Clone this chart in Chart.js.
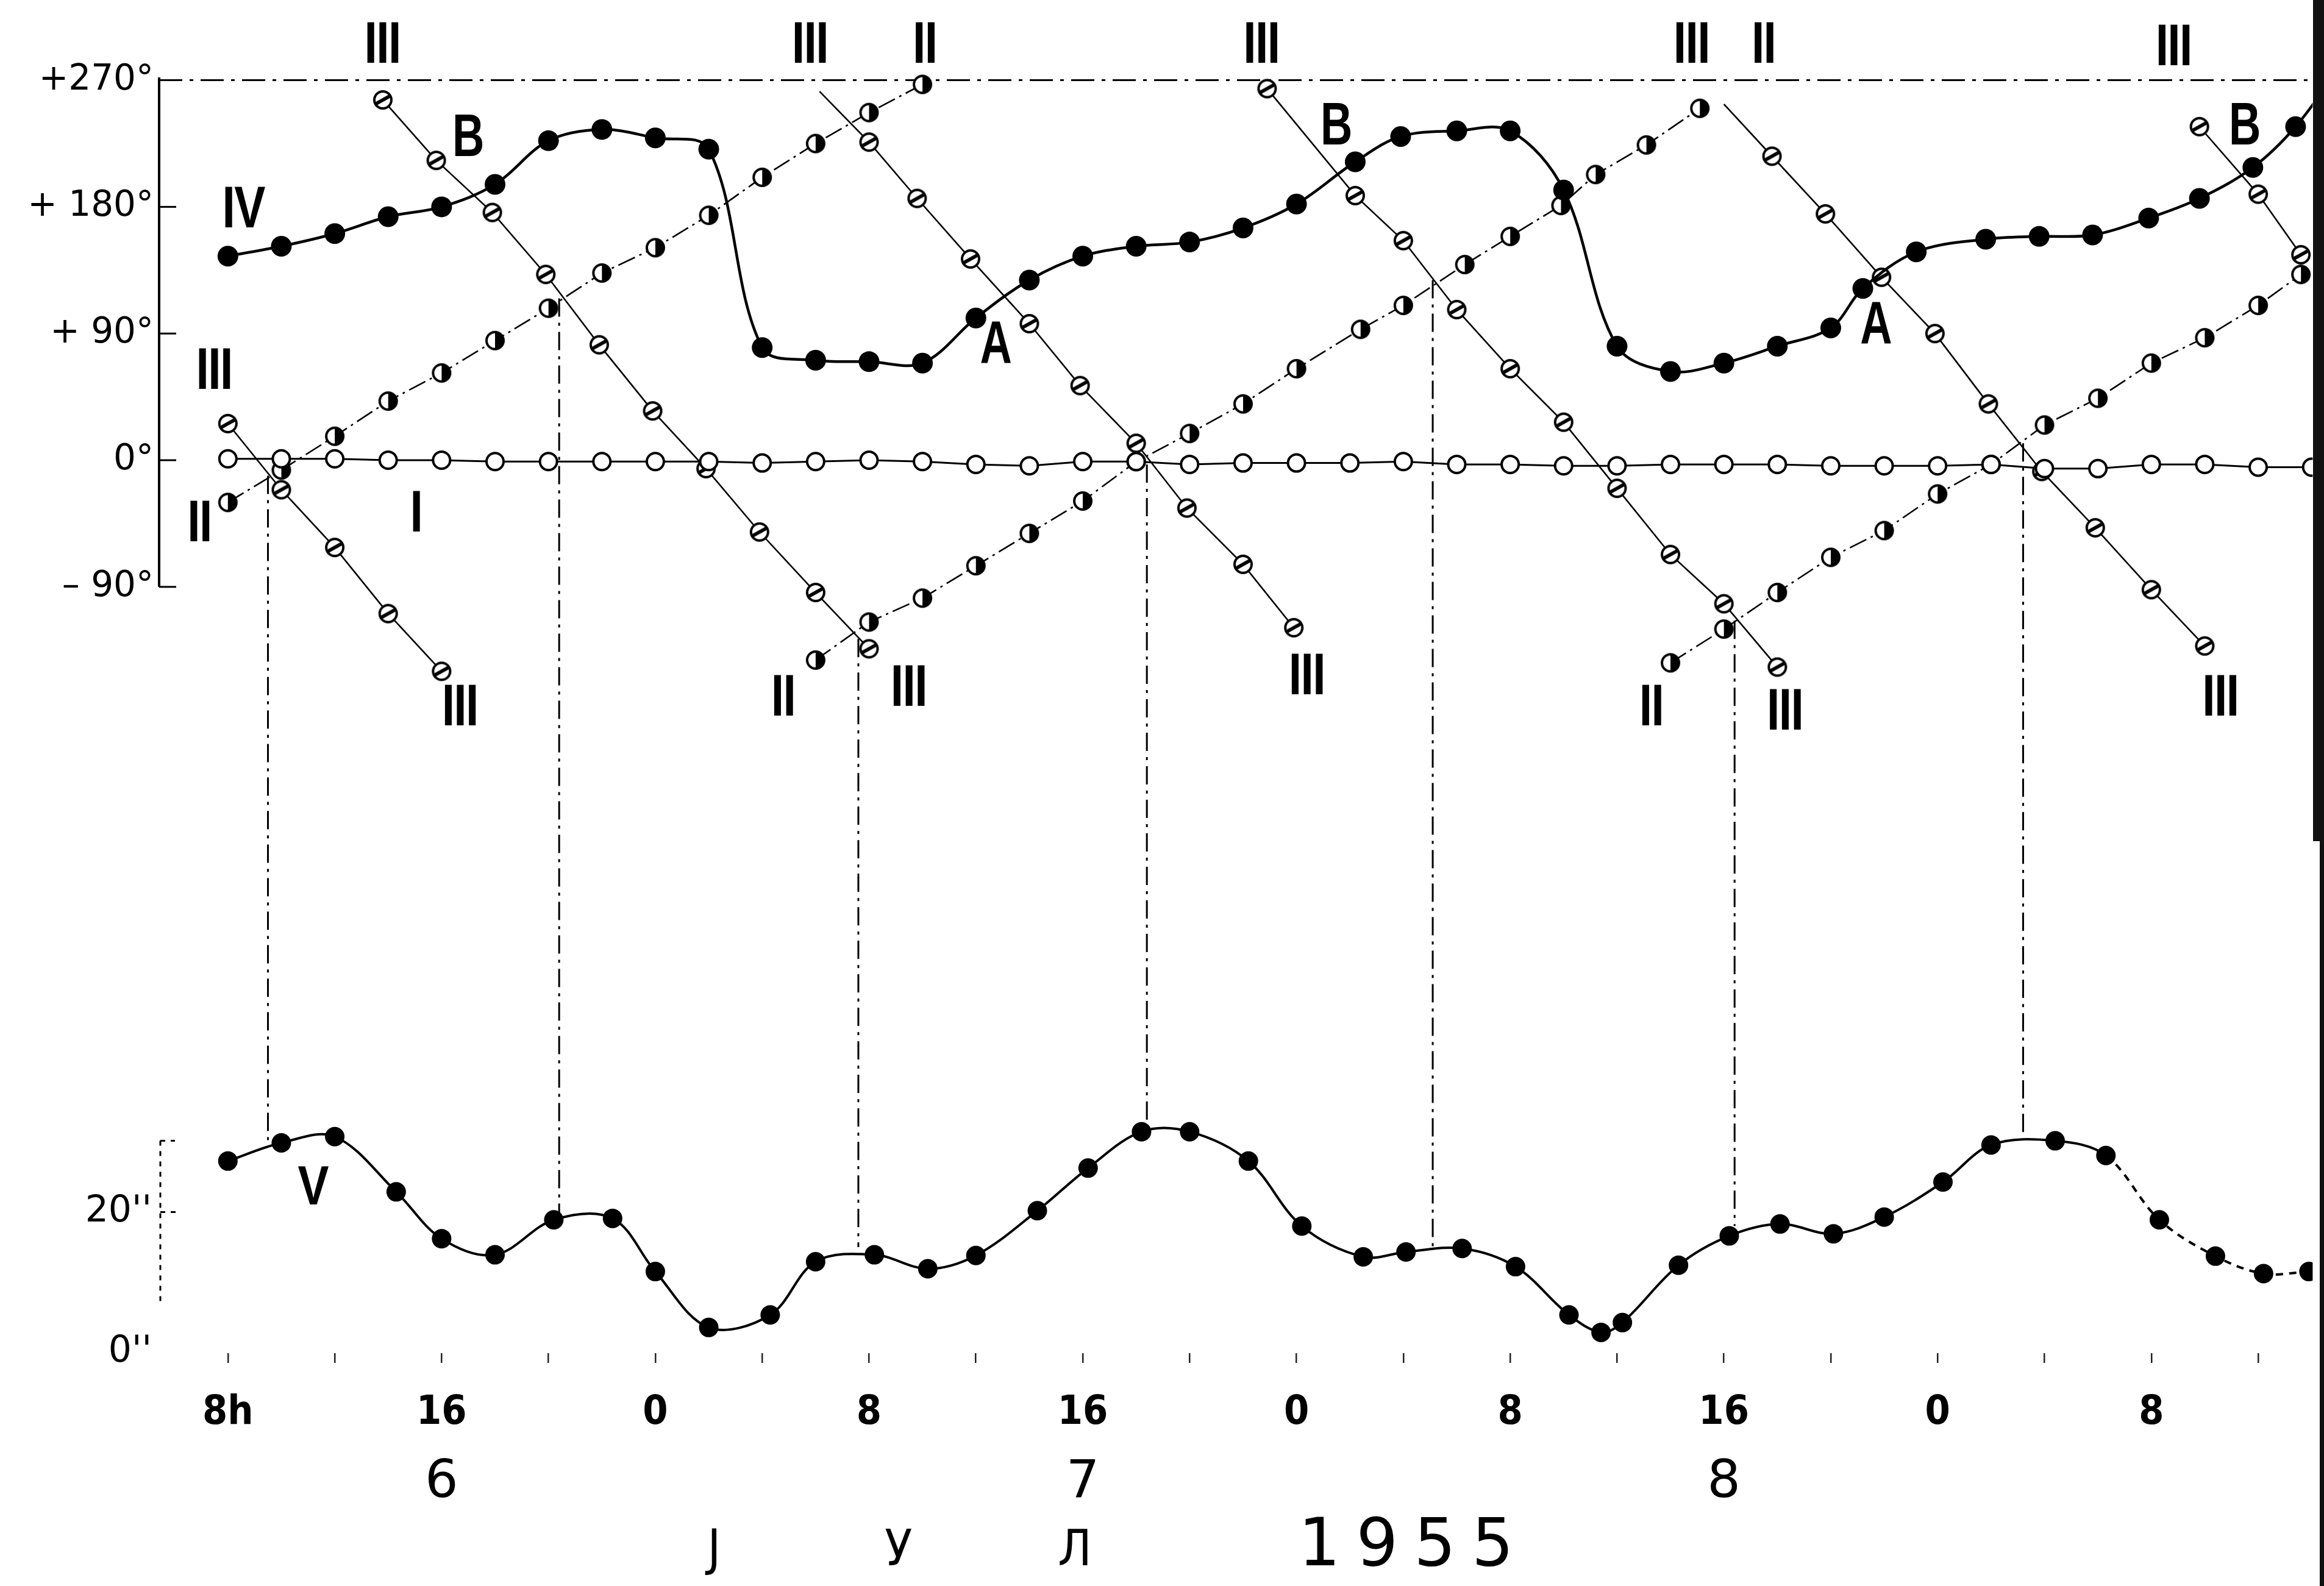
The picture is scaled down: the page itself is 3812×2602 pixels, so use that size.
<!DOCTYPE html>
<html>
<head>
<meta charset="utf-8">
<script src="https://cdn.jsdelivr.net/npm/chart.js@4.4.1/dist/chart.umd.min.js"></script>
<style>
  html, body { margin: 0; padding: 0; background: #ffffff; }
  canvas { display: block; }
</style>
</head>
<body>
<canvas id="c" width="3812" height="2602"></canvas>
<script>
// ===================== DATA =====================
// Time axis: hours counted from 0h on day 6 (July 1955).
const xTickHours  = [8, 16, 24, 32, 40, 48, 56, 64, 72, 80];
const xTickLabels = ['8h', '16', '0', '8', '16', '0', '8', '16', '0', '8'];
const minorTickHours = [12, 20, 28, 36, 44, 52, 60, 68, 76, 84];
const dayHours  = [16, 40, 64];
const dayLabels = ['6', '7', '8'];

const phaseTicks      = [-90, 0, 90, 180, 270];
const phaseTickLabels = ['\u2013 90\u00B0', '0\u00B0', '+ 90\u00B0', '+ 180\u00B0', '+270\u00B0'];
const ampTicks      = [0, 20];
const ampTickLabels = ["0''", "20''"];

// Curve I (open circles, phase in degrees)
const hoursI = [8,10,12,14,16,18,20,22,24,26,28,30,32,34,36,38,40,42,44,46,48,50,52,54,56,58,60,62,64,66,68,70,72,74,76,78,80,82,84,86];
const phaseI = [1,1,1,0,0,-1,-1,-1,-1,-1,-2,-1,0,-1,-3,-4,-1,-1,-3,-2,-2,-2,-1,-3,-3,-4,-4,-3,-3,-3,-4,-4,-4,-3,-6,-6,-3,-3,-5,-5];

// Curve II (half-filled circles), three branches
const hoursII_a = [8,10,12,14,16,18,20,22,24,26,28,30,32,34];
const phaseII_a = [-30,-7,17,42,62,85,108,133,151,174,201,225,247,267];
const hoursII_b = [30,32,34,36,38,40,42,44,46,48,50.4,52,54.3,56,57.9,59.2,61.1,63.1];
const phaseII_b = [-142,-115,-98,-75,-52,-29,-1,19,40,65,93,110,139,159,181,203,224,250];
const hoursII_c = [62,64,66,68,70,72,74,76,78,80,82,84,85.6];
const phaseII_c = [-144,-120,-94,-69,-50,-24,-3,25,44,69,87,110,132];

// Curve III (hatched circles), six branches
const hoursIII_a = [8,10,12,14,16];
const phaseIII_a = [26,-21,-62,-109,-150];
const hoursIII_b = [13.8,15.8,17.9,19.9,21.9,23.9,25.9,27.9,30,32];
const phaseIII_b = [256,213,176,132,82,35,-6,-51,-94,-134];
const hoursIII_c = [30.15,32,33.8,35.8,38,39.9,42,43.9,46,47.9];
const phaseIII_c = [262,226,186,143,97,53,12,-34,-74,-119];
const hoursIII_d = [46.9,50.2,52,54,56,58,60,62,64,66];
const phaseIII_d = [264,188,156,107,65,27,-20,-67,-102,-147];
const hoursIII_e = [64,65.8,67.8,69.9,71.9,73.9,75.9,77.9,80,82];
const phaseIII_e = [253,216,175,130,90,40,-8,-48,-92,-132];
const hoursIII_f = [81.8,84,85.6];
const phaseIII_f = [237,189,146];

// Curve IV (filled circles, smooth)
const hoursIV = [8,10,12,14,16,18,20,22,24,26,28,30,32,34,36,38,40,42,44,46,48,50.2,51.9,54,56,58,60,62,64,66,68,69.2,71.2,73.8,75.8,77.8,79.9,81.8,83.8,85.4,87];
const phaseIV = [145,152,161,173,180,196,227,235,229,221,80,71,70,69,101,128,145,152,155,165,182,212,230,234,234,192,81,63,69,81,94,122,148,157,159,160,172,186,208,237,278];

// Curve V (amplitude, seconds of arc)
const hoursV = [8,10,12,14.3,16,18,20.2,22.4,24,26,28.3,30,32.2,34.2,36,38.3,40.2,42.2,44,46.2,48.2,50.5,52.1,54.2,56.2,58.2,59.4,60.2,62.3,64.2,66.1,68.1,70,72.2,74,76.4,78.3,80.3,82.4,84.2,85.9];
const ampV   = [27.3,29.9,30.8,22.9,16.2,13.9,18.9,19.1,11.5,3.5,5.3,12.9,13.9,11.9,13.8,20.2,26.3,31.5,31.5,27.3,18.0,13.6,14.3,14.8,12.2,5.3,2.8,4.2,12.4,16.6,18.3,16.9,19.3,24.3,29.6,30.2,28.1,18.9,13.7,11.2,11.5];

// Crossings of II and III, carried down to curve V
const crossHours = [9.5, 20.4, 31.6, 42.4, 53.1, 64.4, 75.2];
const crossPhase = [-11, 115, -127, -3, 128, -114, 12];
const crossAmp   = [30.1, 19.5, 15.0, 32.9, 14.8, 18.0, 30.6];

// Curve labels (text, hour, phase)
const curveLabelText  = ['III','III','II','III','III','II','III','IV','III','II','I','B','B','B','A','A','III','II','III','III','II','III','III'];
const curveLabelHour  = [13.8,29.8,34.1,46.7,62.8,65.5,80.85,8.6,7.5,6.95,15.06,17.0,49.5,83.5,36.75,69.7,16.7,28.8,33.5,48.4,61.3,66.3,82.6];
const curveLabelPhase = [294,294,294,294,294,294,292,177,62,-46,-39,228,236,236,81,95,-177,-170,-163,-155,-177,-180,-170];
const ampLabelText = ['V'];
const ampLabelHour = [11.2];
const ampLabelAmp  = [23.3];

const monthLetters     = ['\u0408', '\u0423', '\u041B'];
const monthLetterHours = [26.2, 33.1, 39.7];
const yearText = '1955';
const yearHour = 52.1;

// ===================== LAYOUT CALIBRATION =====================
const CANVAS_H = 2602;
const AREA_TOP = 60, AREA_BOTTOM = 2220, AREA_LEFT = 261, AREA_RIGHT = 3812;
const STACK_SPLIT = 1700; // boundary between the phase panel and the amplitude panel
const X_REF_PX = 374.4, X_REF_H = 8, PX_PER_HOUR = 44.05;
const PHASE_ZERO_PX = 755, PX_PER_DEG = 2.309;
const AMP_ZERO_PX = 2218, PX_PER_ARCSEC = 11.47;

const X_MIN = X_REF_H - (X_REF_PX - AREA_LEFT) / PX_PER_HOUR;
const X_MAX = X_REF_H + (AREA_RIGHT - X_REF_PX) / PX_PER_HOUR;
const PH_MAX = (PHASE_ZERO_PX - AREA_TOP) / PX_PER_DEG;
const PH_MIN = -(STACK_SPLIT - PHASE_ZERO_PX) / PX_PER_DEG;
const AMP_MAX = (AMP_ZERO_PX - STACK_SPLIT) / PX_PER_ARCSEC;
const AMP_MIN = -(AREA_BOTTOM - AMP_ZERO_PX) / PX_PER_ARCSEC;

// ===================== MARKERS =====================
function makeMarker(kind) {
  const s = 38, c = document.createElement('canvas');
  c.width = s; c.height = s;
  const g = c.getContext('2d'), m = s / 2, r = 14;
  g.fillStyle = '#fff';
  g.beginPath(); g.arc(m, m, r, 0, Math.PI * 2); g.fill();
  g.fillStyle = '#000';
  if (kind === 'half') {
    g.beginPath(); g.moveTo(m, m); g.arc(m, m, r, -Math.PI / 2, Math.PI / 2); g.closePath(); g.fill();
  }
  g.lineWidth = 4; g.strokeStyle = '#000';
  g.beginPath(); g.arc(m, m, r, 0, Math.PI * 2); g.stroke();
  if (kind === 'slash') {
    g.lineWidth = 6; g.lineCap = 'round';
    g.beginPath(); g.moveTo(m - 9, m + 5); g.lineTo(m + 9, m - 5); g.stroke();
  }
  return c;
}
const halfMarker = makeMarker('half');
const slashMarker = makeMarker('slash');

const ptsOf = (hs, vs) => hs.map((h, i) => ({ x: h, y: vs[i] }));

function branch(hs, vs, marker, dash, bareFirst) {
  return {
    data: ptsOf(hs, vs), yAxisID: 'yPhase',
    borderColor: '#000', borderWidth: 2.6, borderDash: dash, tension: 0,
    pointStyle: marker,
    pointRadius: ctx => (bareFirst && ctx.dataIndex === 0) ? 0 : 16,
    order: 3
  };
}
const dashII = [30, 8, 4, 8];

const datasets = [
  { data: ptsOf(hoursIV, phaseIV), yAxisID: 'yPhase', borderColor: '#000', borderWidth: 4.5,
    tension: 0.35, pointStyle: 'circle', pointRadius: 17, pointBackgroundColor: '#000',
    pointBorderColor: '#000', pointBorderWidth: 0, order: 1 },
  { data: ptsOf(hoursV, ampV), yAxisID: 'yAmp', borderColor: '#000', borderWidth: 4,
    tension: 0.35, pointStyle: 'circle', pointRadius: 16, pointBackgroundColor: '#000',
    pointBorderColor: '#000', pointBorderWidth: 0, order: 1,
    segment: { borderDash: ctx => ctx.p0.parsed.x >= 78 ? [12, 10] : undefined } },
  { data: ptsOf(hoursI, phaseI), yAxisID: 'yPhase', borderColor: '#000', borderWidth: 3,
    tension: 0, pointStyle: 'circle', pointRadius: 14, pointBackgroundColor: '#fff',
    pointBorderColor: '#000', pointBorderWidth: 4, order: 2 },
  branch(hoursII_a, phaseII_a, halfMarker, dashII, false),
  branch(hoursII_b, phaseII_b, halfMarker, dashII, false),
  branch(hoursII_c, phaseII_c, halfMarker, dashII, false),
  branch(hoursIII_a, phaseIII_a, slashMarker, [], false),
  branch(hoursIII_b, phaseIII_b, slashMarker, [], false),
  branch(hoursIII_c, phaseIII_c, slashMarker, [], true),
  branch(hoursIII_d, phaseIII_d, slashMarker, [], false),
  branch(hoursIII_e, phaseIII_e, slashMarker, [], true),
  branch(hoursIII_f, phaseIII_f, slashMarker, [], false)
];

// ===================== DECORATION PLUGIN =====================
function seg(ctx, x1, y1, x2, y2) { ctx.beginPath(); ctx.moveTo(x1, y1); ctx.lineTo(x2, y2); ctx.stroke(); }
function drawText(ctx, text, x, y, font, sx, ls) {
  ctx.save();
  ctx.translate(x, y); ctx.scale(sx, 1);
  ctx.font = font; ctx.fillStyle = '#000';
  ctx.textAlign = 'center'; ctx.textBaseline = 'middle';
  ctx.letterSpacing = (ls || 0) + 'px';
  ctx.fillText(text, (ls || 0) / 2, 0);
  ctx.restore();
}

const decor = {
  id: 'decor',
  beforeDatasetsDraw(chart) {
    const { ctx, chartArea: a, scales: { x, yPhase, yAmp } } = chart;
    ctx.save();
    ctx.strokeStyle = '#000';
    // phase axis with inward ticks
    ctx.lineWidth = 4; ctx.setLineDash([]);
    seg(ctx, a.left, yPhase.getPixelForValue(272), a.left, yPhase.getPixelForValue(-90));
    ctx.lineWidth = 3;
    [180, 90, 0, -90].forEach(v => {
      const y = yPhase.getPixelForValue(v);
      seg(ctx, a.left, y, a.left + 28, y);
    });
    // +270 dash-dot frame line
    ctx.setLineDash([38, 12, 6, 12]);
    const y270 = yPhase.getPixelForValue(270);
    seg(ctx, a.left, y270, a.right, y270);
    // amplitude axis (dotted)
    ctx.setLineDash([8, 9]);
    seg(ctx, a.left + 2, yAmp.getPixelForValue(30.2), a.left + 2, yAmp.getPixelForValue(7));
    seg(ctx, a.left + 2, yAmp.getPixelForValue(30.2), a.left + 26, yAmp.getPixelForValue(30.2));
    seg(ctx, a.left + 2, yAmp.getPixelForValue(20), a.left + 30, yAmp.getPixelForValue(20));
    // crossing verticals
    ctx.setLineDash([30, 10, 5, 10]);
    ctx.lineWidth = 3;
    crossHours.forEach((h, i) => {
      const px = x.getPixelForValue(h);
      seg(ctx, px, yPhase.getPixelForValue(crossPhase[i]), px, yAmp.getPixelForValue(crossAmp[i]));
    });
    ctx.restore();
  },
  afterDatasetsDraw(chart) {
    const { ctx, scales: { x, yPhase, yAmp } } = chart;
    curveLabelText.forEach((t, i) => {
      const px = x.getPixelForValue(curveLabelHour[i]);
      const py = yPhase.getPixelForValue(curveLabelPhase[i]);
      if (t === 'A' || t === 'B') {
        drawText(ctx, t, px, py, 'bold 98px "Liberation Sans", "DejaVu Sans", sans-serif', 0.74, 0);
      } else {
        drawText(ctx, t, px, py, 'bold 96px "Liberation Sans", "DejaVu Sans", sans-serif', 0.8, -2);
      }
    });
    ampLabelText.forEach((t, i) => {
      drawText(ctx, t, x.getPixelForValue(ampLabelHour[i]), yAmp.getPixelForValue(ampLabelAmp[i]),
        'bold 90px "Liberation Sans", "DejaVu Sans", sans-serif', 0.85, 0);
    });
  },
  afterDraw(chart) {
    const { ctx, scales: { x } } = chart;
    dayHours.forEach((h, i) => {
      drawText(ctx, dayLabels[i], x.getPixelForValue(h), 2434, '86px "DejaVu Sans", sans-serif', 1, 0);
    });
    monthLetters.forEach((t, i) => {
      drawText(ctx, t, x.getPixelForValue(monthLetterHours[i]), 2547, '82px "DejaVu Sans", sans-serif', 0.9, 0);
    });
    drawText(ctx, yearText, x.getPixelForValue(yearHour), 2540, '108px "DejaVu Sans", sans-serif', 1, 26);
    // dark scanned right edge
    ctx.save();
    ctx.fillStyle = '#111';
    ctx.fillRect(3794, 0, 18, 1380);
    ctx.fillRect(3805, 1380, 7, 1222);
    ctx.restore();
  }
};

// ===================== CHART =====================
const tickFontX = { family: '"Liberation Sans Narrow", "DejaVu Sans Condensed", "DejaVu Sans", sans-serif', size: 66, weight: 'bold' };
const tickFontY = { family: '"DejaVu Sans", sans-serif', size: 58, weight: 'normal' };

new Chart(document.getElementById('c'), {
  type: 'line',
  data: { datasets },
  options: {
    responsive: false, animation: false, devicePixelRatio: 1, events: [],
    layout: { padding: { top: AREA_TOP, left: 0, right: 0, bottom: 0 } },
    plugins: { legend: { display: false }, tooltip: { enabled: false } },
    elements: { line: { capBezierPoints: true } },
    scales: {
      x: {
        type: 'linear', position: 'bottom', min: X_MIN, max: X_MAX,
        afterBuildTicks: s => { s.ticks = xTickHours.concat(minorTickHours).sort((p, q) => p - q).map(v => ({ value: v })); },
        afterFit: s => { s.height = CANVAS_H - AREA_BOTTOM; },
        ticks: {
          autoSkip: false, maxRotation: 0, minRotation: 0, padding: 43, color: '#000', font: tickFontX,
          callback: v => { const i = xTickHours.indexOf(v); return i >= 0 ? xTickLabels[i] : ''; }
        },
        grid: { display: true, drawOnChartArea: false, drawTicks: true, tickLength: 16, color: '#222', lineWidth: 2.5 },
        border: { display: false }
      },
      yPhase: {
        type: 'linear', position: 'left', weight: 1, stack: 'panels', stackWeight: STACK_SPLIT - AREA_TOP,
        min: PH_MIN, max: PH_MAX,
        afterBuildTicks: s => { s.ticks = phaseTicks.map(v => ({ value: v })); },
        afterFit: s => { s.width = AREA_LEFT; },
        ticks: { padding: 9, color: '#000', font: tickFontY,
          callback: v => phaseTickLabels[phaseTicks.indexOf(v)] },
        grid: { display: false, drawTicks: false },
        border: { display: false }
      },
      yAmp: {
        type: 'linear', position: 'left', weight: 0, stack: 'panels', stackWeight: AREA_BOTTOM - STACK_SPLIT,
        min: AMP_MIN, max: AMP_MAX,
        afterBuildTicks: s => { s.ticks = ampTicks.map(v => ({ value: v })); },
        afterFit: s => { s.width = AREA_LEFT; },
        ticks: { padding: 12, color: '#000', font: { family: '"DejaVu Sans", sans-serif', size: 60 },
          callback: v => ampTickLabels[ampTicks.indexOf(v)] },
        grid: { display: false, drawTicks: false },
        border: { display: false }
      }
    }
  },
  plugins: [decor]
});
</script>
</body>
</html>
